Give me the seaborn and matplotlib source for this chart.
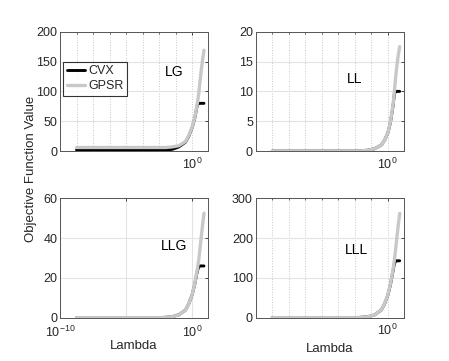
import numpy as np
import pandas as pd
import matplotlib
matplotlib.use("Agg")
import matplotlib.pyplot as plt
import matplotlib.ticker as mticker
import seaborn as sns

# ----------------- DATA -----------------
lam = [1.78e-9, 3.16e-8, 5.62e-7, 1e-5, 1.78e-4, 3.16e-3, 1e-2, 3.16e-2, 0.1,
       0.316, 0.562, 1.0, 1.585, 2.512, 3.162, 3.981, 5.012, 6.31, 7.943]

panels = ["LG", "LL", "LLG", "LLL"]

gpsr_lg = [6, 6, 6, 6, 6, 6, 6, 7, 9, 16, 26, 40, 56, 80, 96, 117, 137, 154, 169]
cvx_lg = [2, 2, 2, 2, 2, 2, 2, 3, 7, 15, 25, 39, 55, 78, 80, 80, 80, 80, 80]

gpsr_ll = [0, 0, 0, 0, 0, 0, 0.05, 0.15, 0.4, 1.0, 1.8, 3.0, 4.9, 7.8, 10.0, 12.5, 14.5, 16.2, 17.5]
cvx_ll = [0, 0, 0, 0, 0, 0, 0.05, 0.15, 0.4, 1.0, 1.8, 3.0, 4.8, 7.6, 9.6, 10, 10, 10, 10]

gpsr_llg = [0, 0, 0, 0, 0, 0, 0.2, 0.5, 1.5, 3.8, 7, 11.5, 17, 24.5, 29, 35, 41, 47, 52.5]
cvx_llg = [0, 0, 0, 0, 0, 0, 0.2, 0.5, 1.5, 3.8, 7, 11.4, 16.8, 23.5, 25.5, 26, 26, 26, 26]

gpsr_lll = [0, 0, 0, 0, 0, 0, 1, 2.5, 7, 19, 35, 57, 85, 122, 145, 175, 205, 235, 262]
cvx_lll = [0, 0, 0, 0, 0, 0, 1, 2.5, 7, 19, 34, 56, 83, 118, 136, 143, 143, 143, 143]

gpsr = [gpsr_lg, gpsr_ll, gpsr_llg, gpsr_lll]
cvx = [cvx_lg, cvx_ll, cvx_llg, cvx_lll]

ylims = [200, 20, 60, 300]
ysteps = [50, 5, 20, 100]

# ----------------- STYLE -----------------
sns.set_theme(style="white")
plt.rcParams["font.family"] = ["Liberation Sans", "DejaVu Sans"]
plt.rcParams["mathtext.fontset"] = "custom"
plt.rcParams["mathtext.rm"] = "Liberation Sans"
plt.rcParams["mathtext.it"] = "Liberation Sans"

TXT = "#262626"
GRAY = "#c8c8c8"

fig = plt.figure(figsize=(4.49, 3.61), dpi=100)
W, H = 449, 361
boxes = [(60, 31.7), (255.7, 31.7), (60, 198.3), (255.7, 198.3)]
aw, ah = 148, 119.4

label_pos = [(0.774, 0.66), (0.67, 0.60), (0.77, 0.60), (0.684, 0.567)]
minor_exps = [-8.75, -7.5, -6.25, -5, -3.75, -2.5, -1.25]

axes = []
for i, (px, py) in enumerate(boxes):
    ax = fig.add_axes([px / W, 1 - (py + ah) / H, aw / W, ah / H])
    axes.append(ax)
    df = pd.DataFrame({"Lambda": lam, "CVX": cvx[i], "GPSR": gpsr[i]})

    sns.lineplot(data=df, x="Lambda", y="CVX", color="black", linewidth=2.1,
                 ax=ax, label="CVX", legend=False)
    sns.lineplot(data=df, x="Lambda", y="GPSR", color=GRAY, linewidth=2.4,
                 ax=ax, label="GPSR", legend=False)

    ax.set_xscale("log")
    ax.set_xlim(1e-10, 16)
    ax.set_ylim(0, ylims[i])
    ax.set_yticks(np.arange(0, ylims[i] + 1, ysteps[i]))

    # horizontal grid
    ax.yaxis.grid(True, color="#e3e3e3", linewidth=0.8, linestyle="-")

    if i == 2:
        ax.set_xticks([1e-10, 1e-5, 1.0])
        ax.set_xticklabels(["$10^{-10}$", "", "$10^{0}$"])
        ax.xaxis.set_minor_locator(mticker.NullLocator())
        ax.xaxis.grid(True, which="major", color="#e3e3e3", linewidth=0.8, linestyle="-")
    else:
        ax.set_xticks([1.0])
        ax.set_xticklabels(["$10^{0}$"])
        ax.xaxis.set_minor_locator(mticker.FixedLocator([10.0 ** e for e in minor_exps]))
        ax.xaxis.set_minor_formatter(mticker.NullFormatter())
        ax.xaxis.grid(True, which="both", color="#c8c8c8", linewidth=0.7, linestyle=":")

    ax.tick_params(axis="both", which="major", direction="in", length=2.5, width=0.6,
                   labelsize=9, colors=TXT, right=True, top=True)
    ax.tick_params(axis="y", which="major", pad=2)
    ax.tick_params(axis="x", which="major", pad=5 if i == 2 else 4)
    ax.tick_params(axis="x", which="minor", direction="in", length=1.5, width=0.5,
                   top=True, colors=TXT)
    for sp in ax.spines.values():
        sp.set_color("#555555")
        sp.set_linewidth(0.7)

    ax.set_xlabel("")
    ax.set_ylabel("")
    ax.text(label_pos[i][0], label_pos[i][1], panels[i], transform=ax.transAxes,
            ha="center", va="center", fontsize=10, color="black")

axes[2].set_xlabel("Lambda", fontsize=9.5, color=TXT, labelpad=0)
axes[3].set_xlabel("Lambda", fontsize=9.5, color=TXT, labelpad=3)

leg = axes[0].legend(loc="upper left", bbox_to_anchor=(0.02, 0.75), fontsize=9,
                     frameon=True, fancybox=False, handlelength=1.5,
                     handletextpad=0.2, borderpad=0.3, labelspacing=0.25,
                     borderaxespad=0)
leg.get_frame().set_edgecolor("black")
leg.get_frame().set_linewidth(0.8)

fig.text(31 / W, 1 - 169 / H, "Objective Function Value", rotation=90,
         ha="center", va="center", fontsize=9.5, color=TXT)

fig.savefig("out.png", dpi=100, facecolor="white")
